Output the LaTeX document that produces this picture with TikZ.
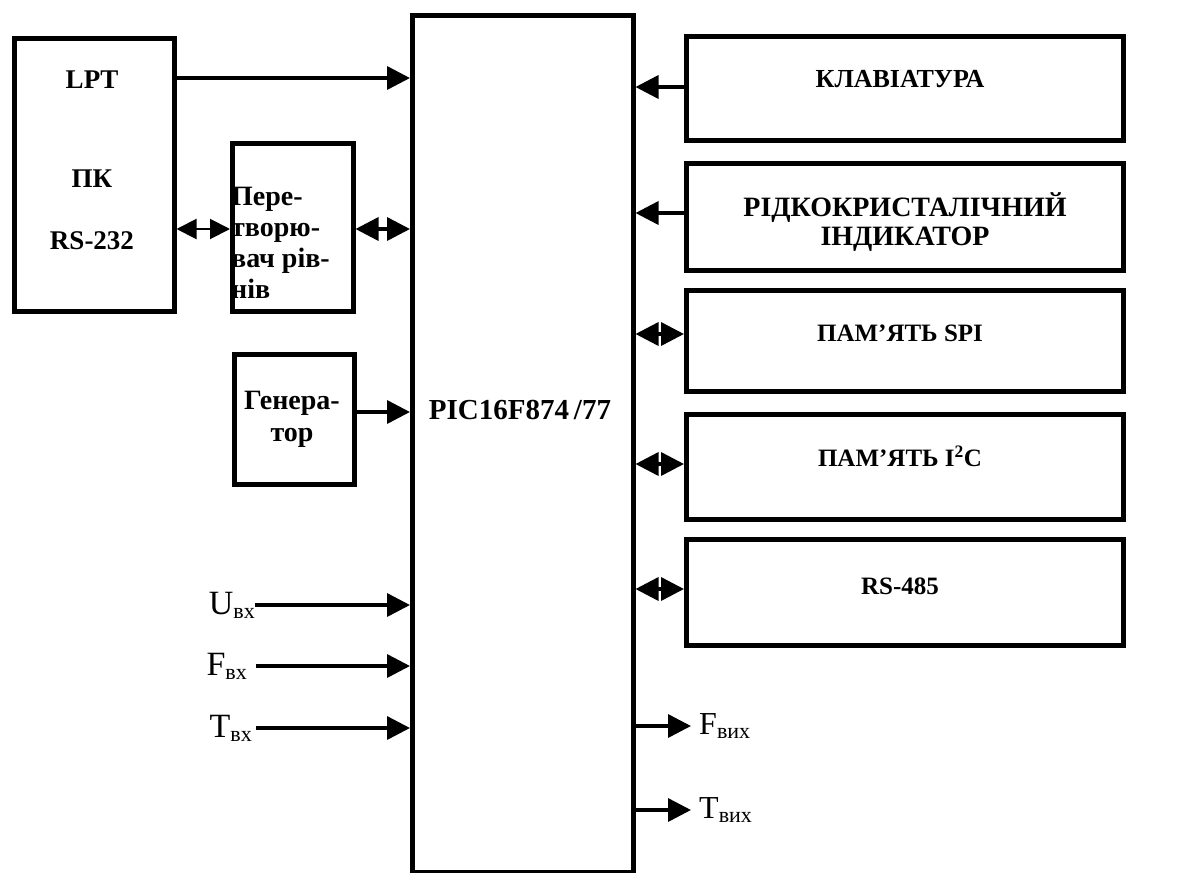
\documentclass[tikz,border=0pt]{standalone}
\usepackage{fontspec}
\setmainfont{Liberation Serif}
\usetikzlibrary{arrows.meta}
\begin{document}
\begin{tikzpicture}[x=1pt,y=-1pt,
  blk/.style={draw,line width=4.5pt,inner sep=0pt,anchor=north west},
  lbl/.style={font=\bfseries\fontsize{25}{28}\selectfont,inner sep=0pt,align=center},
  sig/.style={inner sep=0pt,font=\fontsize{34}{34}\selectfont},
  con/.style={line width=3.5pt},
  sarr/.style={con,-{Triangle[length=23pt,width=23pt]}},
  darr/.style={con,{Triangle[length=23pt,width=23pt]}-{Triangle[length=23pt,width=23pt]}},
  sdarr/.style={line width=2pt,{Triangle[length=20pt,width=20pt]}-{Triangle[length=20pt,width=20pt]}}]
\useasboundingbox (0,0) rectangle (1192,873);

% main blocks
\node[blk,minimum width=160pt,minimum height=273pt] (pc) at (12,36) {};
\node[blk,minimum width=121pt,minimum height=168pt] (conv) at (230,141) {};
\node[blk,minimum width=120pt,minimum height=130pt] (gen) at (232,352) {};
\node[blk,minimum width=221pt,minimum height=857pt] (pic) at (410,13) {};
\node[blk,minimum width=437pt,minimum height=104pt] (kb) at (684,34) {};
\node[blk,minimum width=437pt,minimum height=107pt] (lcd) at (684,161) {};
\node[blk,minimum width=437pt,minimum height=101pt] (spi) at (684,288) {};
\node[blk,minimum width=437pt,minimum height=105pt] (iic) at (684,412) {};
\node[blk,minimum width=437pt,minimum height=106pt] (rs) at (684,537) {};

% texts
\node[lbl,font=\bfseries\fontsize{27}{30}\selectfont] (lpt) at (92,80) {LPT};
\node[lbl,font=\bfseries\fontsize{27}{30}\selectfont] (pk) at (92,179) {ПК};
\node[lbl,font=\bfseries\fontsize{27}{30}\selectfont] (rs232) at (92,241) {RS-232};
\node[lbl,align=left,anchor=west,font=\bfseries\fontsize{28}{31}\selectfont] (convt) at (231,243) {Пере-\\творю-\\вач рів-\\нів};
\node[lbl,font=\bfseries\fontsize{28}{32}\selectfont] (gent) at (292,419) {Генера-\\тор};
\node[lbl,font=\bfseries\fontsize{29}{30}\selectfont] (pict) at (520,410) {PIC16F874\,/77};
\node[lbl,font=\bfseries\fontsize{26}{28}\selectfont] (kbt) at (900,79) {КЛАВІАТУРА};
\node[lbl,font=\bfseries\fontsize{28}{29}\selectfont] (lcdt) at (905,222) {РІДКОКРИСТАЛІЧНИЙ\\ІНДИКАТОР};
\node[lbl] (spit) at (900,333) {ПАМ’ЯТЬ SPI};
\node[lbl] (iict) at (900,456) {ПАМ’ЯТЬ I\textsuperscript{2}C};
\node[lbl] (rst) at (900,586) {RS-485};

% input / output signals
\node[sig,anchor=east] (uin) at (255,605) {U\raisebox{-4pt}{\fontsize{22}{22}\selectfont вх}};
\node[sig,anchor=east] (fin) at (247,666) {F\raisebox{-4pt}{\fontsize{22}{22}\selectfont вх}};
\node[sig,anchor=east] (tin) at (252,728) {T\raisebox{-4pt}{\fontsize{22}{22}\selectfont вх}};
\node[sig,anchor=west,font=\fontsize{32}{32}\selectfont] (fout) at (699,726) {F\raisebox{-4pt}{\fontsize{22}{22}\selectfont вих}};
\node[sig,anchor=west,font=\fontsize{32}{32}\selectfont] (tout) at (699,810) {T\raisebox{-4pt}{\fontsize{22}{22}\selectfont вих}};

% connectors
\draw[sarr] (pc.east |- 0,78) -- (pic.west |- 0,78);
\draw[sdarr] (pc.east |- 0,229) -- (conv.west |- 0,229);
\draw[darr] (conv.east |- 0,229) -- (pic.west |- 0,229);
\draw[sarr] (gen.east |- 0,412) -- (pic.west |- 0,412);
\draw[sarr] (uin.east) -- (pic.west |- uin.east);
\draw[sarr] ([xshift=9pt]fin.east) -- (pic.west |- fin.east);
\draw[sarr] ([xshift=4pt]tin.east) -- (pic.west |- tin.east);
\draw[sarr] (kb.west |- 0,87) -- (pic.east |- 0,87);
\draw[sarr] (lcd.west |- 0,213) -- (pic.east |- 0,213);
\draw[darr] (spi.west |- 0,334) -- (pic.east |- 0,334);
\draw[darr] (iic.west |- 0,464) -- (pic.east |- 0,464);
\draw[darr] (rs.west |- 0,589) -- (pic.east |- 0,589);
\draw[sarr] (pic.east |- fout.west) -- ([xshift=-8pt]fout.west);
\draw[sarr] (pic.east |- tout.west) -- ([xshift=-8pt]tout.west);
\end{tikzpicture}
\end{document}
